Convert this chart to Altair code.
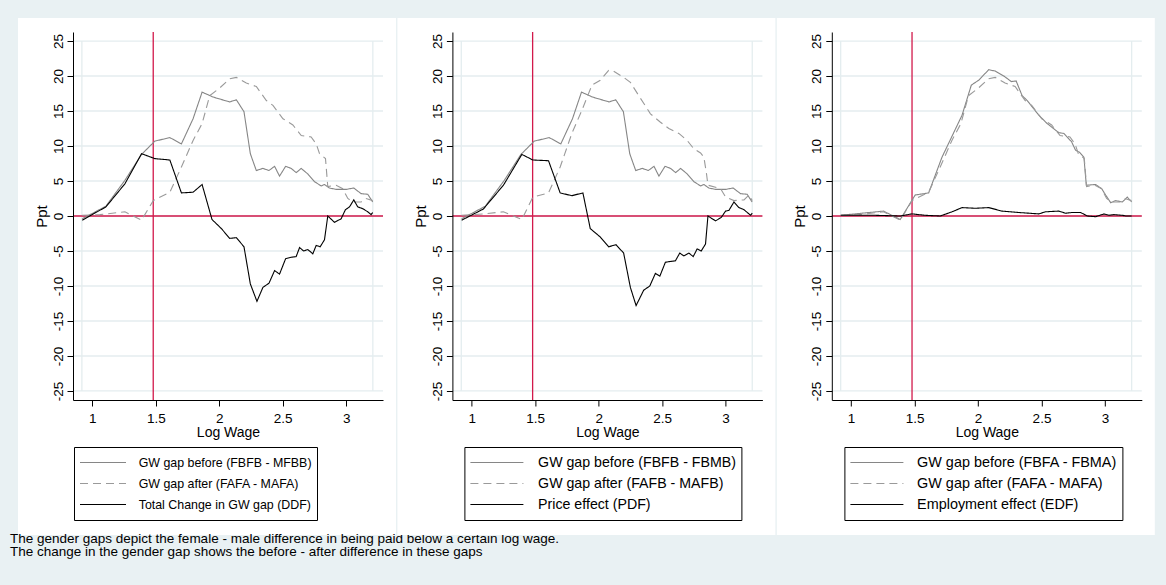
import altair as alt
import pandas as pd

FONT = "Liberation Sans"
BG = "#e9f1f3"
GRID = "#e4edef"
RED = "#d2194b"
GRAY_SOLID = "#868686"
GRAY_DASH = "#9a9a9a"

# ---- gender gaps by log wage (percentage points) ----
# GW gap before (FBFB - MFBB) / (FBFB - FBMB)
before_fb_x = [0.921, 1.107, 1.257, 1.388, 1.493, 1.611, 1.702, 1.794, 1.865, 1.951,
               2.082, 2.135, 2.195, 2.245, 2.292, 2.344, 2.392, 2.436, 2.475, 2.523,
               2.567, 2.606, 2.646, 2.698, 2.751, 2.803, 2.829, 2.868, 2.921, 2.999,
               3.060, 3.117, 3.170, 3.209]
before_fb_y = [-0.4, 1.4, 5.1, 8.8, 10.7, 11.2, 10.3, 13.9, 17.7, 17.0,
               16.3, 16.6, 14.9, 8.9, 6.5, 6.8, 6.5, 7.1, 5.7, 7.1,
               6.8, 6.2, 6.8, 6.0, 4.9, 4.3, 4.5, 4.0, 3.8, 3.8,
               4.0, 3.2, 3.1, 2.0]

# GW gap after (FAFA - MAFA)
after_fafa_x = [0.921, 1.060, 1.257, 1.388, 1.480, 1.611, 1.702, 1.794, 1.865, 1.925,
                2.004, 2.082, 2.135, 2.213, 2.292, 2.371, 2.423, 2.502, 2.580, 2.646,
                2.724, 2.764, 2.790, 2.837, 2.855, 2.921, 2.973, 3.013, 3.052, 3.117,
                3.157, 3.209]
after_fafa_y = [0.1, 0.2, 0.6, -0.6, 2.2, 3.4, 7.0, 10.8, 13.2, 17.2,
                18.3, 19.6, 19.8, 19.0, 18.5, 16.5, 15.8, 13.9, 13.0, 11.5,
                11.3, 10.3, 8.9, 8.2, 4.2, 4.4, 3.9, 2.5, 2.0, 2.0,
                2.5, 2.2]

# Total change in GW gap (DDF)
ddf_x = [0.921, 1.107, 1.257, 1.388, 1.493, 1.611, 1.702, 1.794, 1.865, 1.943,
         2.017, 2.082, 2.135, 2.195, 2.245, 2.297, 2.344, 2.392, 2.436, 2.475,
         2.523, 2.567, 2.606, 2.633, 2.664, 2.698, 2.737, 2.764, 2.795, 2.829,
         2.855, 2.908, 2.960, 2.994, 3.026, 3.060, 3.091, 3.130, 3.170, 3.196,
         3.209]
ddf_y = [-0.6, 1.3, 4.6, 8.9, 8.2, 8.0, 3.3, 3.4, 4.5, -0.5,
         -1.8, -3.2, -3.1, -4.4, -9.7, -12.2, -10.2, -9.6, -7.8, -8.3,
         -6.1, -5.9, -5.8, -4.5, -5.0, -4.8, -5.4, -4.2, -4.4, -3.4,
         0.0, -0.9, -0.4, 0.9, 1.3, 2.3, 1.3, 1.05, 0.6, 0.2,
         0.5]

# GW gap after (FAFB - MAFB)
after_fafb_x = [0.921, 1.092, 1.250, 1.395, 1.482, 1.605, 1.697, 1.789, 1.868, 1.947,
                2.013, 2.079, 2.118, 2.197, 2.250, 2.316, 2.408, 2.487, 2.553, 2.632,
                2.697, 2.750, 2.803, 2.829, 2.850, 2.861, 2.961, 3.000, 3.066, 3.145,
                3.184, 3.210]
after_fafb_y = [0.1, 0.3, 0.6, -0.5, 2.7, 3.3, 7.0, 11.8, 15.1, 18.7,
                19.4, 20.8, 20.7, 19.8, 19.1, 17.2, 14.6, 13.4, 12.5, 11.8,
                10.8, 9.6, 9.0, 8.4, 6.0, 4.4, 3.9, 2.7, 2.2, 2.3,
                3.0, 2.2]

# Price effect (PDF)
pdf_x = [0.921, 1.092, 1.250, 1.395, 1.482, 1.605, 1.697, 1.789, 1.876, 1.934,
         2.013, 2.079, 2.137, 2.197, 2.250, 2.295, 2.355, 2.403, 2.447, 2.482,
         2.526, 2.605, 2.639, 2.671, 2.711, 2.745, 2.776, 2.808, 2.842, 2.861,
         2.921, 2.966, 3.000, 3.026, 3.066, 3.105, 3.145, 3.197, 3.210]
pdf_y = [-0.6, 1.0, 4.4, 8.8, 8.0, 7.9, 3.3, 2.9, 3.3, -1.8,
         -3.0, -4.4, -4.1, -5.3, -10.2, -12.8, -10.6, -10.0, -8.2, -8.6,
         -6.6, -6.4, -5.3, -5.7, -5.3, -5.8, -4.7, -5.0, -4.0, 0.0,
         -0.7, -0.2, 0.7, 0.8, 2.0, 1.2, 0.9, 0.1, 0.4]

# GW gap before (FBFA - FBMA)
before_fbfa_x = [0.918, 1.255, 1.387, 1.505, 1.611, 1.716, 1.874, 1.947, 2.005, 2.084,
                 2.137, 2.203, 2.263, 2.300, 2.347, 2.387, 2.479, 2.545, 2.637, 2.676,
                 2.737, 2.768, 2.800, 2.834, 2.853, 2.926, 2.974, 3.005, 3.045, 3.084,
                 3.137, 3.176, 3.210]
before_fbfa_y = [0.1, 0.7, -0.5, 3.0, 3.3, 8.4, 14.4, 18.7, 19.4, 20.9,
                 20.7, 20.0, 19.2, 19.3, 17.2, 16.5, 14.4, 13.2, 11.9, 11.8,
                 10.6, 9.4, 9.1, 8.4, 4.4, 4.5, 3.9, 3.0, 1.9, 2.2,
                 2.0, 2.7, 2.0]

# Employment effect (EDF)
edf_x = [0.918, 1.190, 1.387, 1.479, 1.584, 1.703, 1.795, 1.874, 1.979, 2.084,
         2.189, 2.321, 2.479, 2.532, 2.637, 2.689, 2.742, 2.808, 2.861, 2.926,
         2.992, 3.032, 3.071, 3.137, 3.163, 3.210]
edf_y = [0.1, 0.1, 0.0, 0.3, 0.1, 0.0, 0.6, 1.2, 1.1, 1.2,
         0.7, 0.5, 0.3, 0.6, 0.7, 0.4, 0.5, 0.5, 0.0, -0.1,
         0.3, 0.1, 0.2, 0.1, 0.0, 0.0]

# legend labels per panel
labels_ddf = ["GW gap before (FBFB - MFBB)", "GW gap after (FAFA - MAFA)",
              "Total Change in GW gap (DDF)"]
labels_pdf = ["GW gap before (FBFB - FBMB)", "GW gap after (FAFB - MAFB)",
              "Price effect (PDF)"]
labels_edf = ["GW gap before (FBFA - FBMA)", "GW gap after (FAFA - MAFA)",
              "Employment effect (EDF)"]

# axis ticks, reference lines and data range
y_ticks = [-25, -20, -15, -10, -5, 0, 5, 10, 15, 20, 25]
x_ticks = [1, 1.5, 2, 2.5, 3]
ref_wage = 1.48
data_range_x = [0.918, 3.21]

notes = ["The gender gaps depict the female - male difference in being paid below a certain log wage.",
         "The change in the gender gap shows the before - after difference in these gaps"]

X_DOMAIN = [0.848, 3.29]
Y_DOMAIN = [-26.29, 26.29]
W, H = 310, 368

x_scale = alt.Scale(domain=X_DOMAIN, nice=False, zero=False)
y_scale = alt.Scale(domain=Y_DOMAIN, nice=False, zero=False)

x_axis = alt.Axis(values=x_ticks, labelExpr="'' + datum.value", grid=False,
                  title="Log Wage", titleFontSize=14, titleFontWeight="normal",
                  titlePadding=0.5, labelFontSize=13.5, labelPadding=5, tickSize=6,
                  tickColor="black", domainColor="black", labelColor="black",
                  titleColor="black", labelFont=FONT, titleFont=FONT, zindex=1)
y_axis = alt.Axis(values=y_ticks,
                  labelExpr="datum.value < 0 ? '-' + abs(datum.value) : '' + datum.value",
                  grid=False, title="Ppt", titleFontSize=15, titleFontWeight="normal",
                  titlePadding=2, labelFontSize=13.5, labelAngle=270, labelAlign="center",
                  labelBaseline="alphabetic", labelPadding=5, tickSize=6,
                  tickColor="black", domainColor="black", labelColor="black",
                  titleColor="black", labelFont=FONT, titleFont=FONT, zindex=1)


def X(**kw):
    return alt.X(scale=x_scale, axis=x_axis, **kw)


def Y(**kw):
    return alt.Y(scale=y_scale, axis=y_axis, **kw)


def long_frame(names, xs, ys):
    rows = []
    for name, xv, yv in zip(names, xs, ys):
        rows += [{"series": name, "x": a, "y": b} for a, b in zip(xv, yv)]
    return pd.DataFrame(rows)


def panel(names, xs, ys, legend_x, sym_len, label_offset, label_size, tail,
          first=False):
    one = alt.Data(values=[{}])
    layers = []
    if first:
        layers.append(alt.Chart(one).mark_rect(color=BG).encode(
            x=alt.value(-73), x2=alt.value(1093), y=alt.value(-32), y2=alt.value(553)))
    layers.append(alt.Chart(one).mark_rect(color="white").encode(
        x=alt.value(-55), x2=alt.value(323), y=alt.value(-14), y2=alt.value(503)))

    # horizontal grid at the y ticks
    layers.append(alt.Chart(pd.DataFrame({"g": y_ticks})).mark_rule(
        color=GRID, strokeWidth=1.3).encode(y=Y(field="g", type="quantitative")))
    # vertical grid at the ends of the wage range
    layers.append(alt.Chart(pd.DataFrame({"gx": data_range_x})).mark_rule(
        color=GRID, strokeWidth=1.3).encode(
        x=X(field="gx", type="quantitative"), y=Y(datum=-25), y2=alt.Y2(datum=25)))

    # reference lines
    layers.append(alt.Chart(one).mark_rule(color=RED, strokeWidth=1.3).encode(y=Y(datum=0)))
    layers.append(alt.Chart(one).mark_rule(color=RED, strokeWidth=1.3).encode(x=X(datum=ref_wage)))

    leg = alt.Legend(orient="none", legendX=legend_x, legendY=415, title=None,
                     symbolType="stroke", symbolSize=sym_len * sym_len, clipHeight=21,
                     rowPadding=0, padding=5, labelOffset=label_offset, labelFont=FONT,
                     labelFontSize=label_size, labelColor="black", labelLimit=400,
                     labelExpr="datum.label + '" + " " * tail + "'",
                     strokeColor="black", fillColor="white", zindex=1)
    df = long_frame(names, xs, ys)
    layers.append(alt.Chart(df).mark_line(interpolate="linear").encode(
        x=X(field="x", type="quantitative"),
        y=Y(field="y", type="quantitative"),
        color=alt.Color("series:N", scale=alt.Scale(domain=names,
                        range=[GRAY_SOLID, GRAY_DASH, "black"]), legend=leg),
        strokeDash=alt.StrokeDash("series:N", scale=alt.Scale(domain=names,
                                  range=[[1, 0], [8, 5], [1, 0]]), legend=leg),
        strokeWidth=alt.StrokeWidth("series:N", scale=alt.Scale(domain=names,
                                    range=[1.1, 1.1, 1.4]), legend=leg),
    ))

    if first:
        layers.append(alt.Chart(one).mark_text(
            align="left", baseline="alphabetic", fontSize=13.5, lineHeight=13,
            font=FONT, color="black").encode(
            x=alt.value(-63), y=alt.value(510.5), text=alt.value(notes)))

    return alt.layer(*layers).properties(width=W, height=H)


p1 = panel(labels_ddf, [before_fb_x, after_fafa_x, ddf_x],
           [before_fb_y, after_fafa_y, ddf_y], 1, 46, 11.7, 12.4, 2, first=True)
p2 = panel(labels_pdf, [before_fb_x, after_fafb_x, pdf_x],
           [before_fb_y, after_fafb_y, pdf_y], 12, 53, 13.7, 14.2, 0)
p3 = panel(labels_edf, [before_fbfa_x, after_fafa_x, edf_x],
           [before_fbfa_y, after_fafa_y, edf_y], 12.6, 53, 12.7, 14.4, 2)

chart = alt.hconcat(p1, p2, p3).resolve_scale(
    color="independent", strokeDash="independent", strokeWidth="independent"
).resolve_legend(
    color="independent", strokeDash="independent", strokeWidth="independent"
).properties(
    spacing=69.4, bounds="flush", padding=0
).configure(
    background=BG, font=FONT
).configure_view(stroke=None)

chart.save("out.html", embed_options={"renderer": "svg", "actions": False})
